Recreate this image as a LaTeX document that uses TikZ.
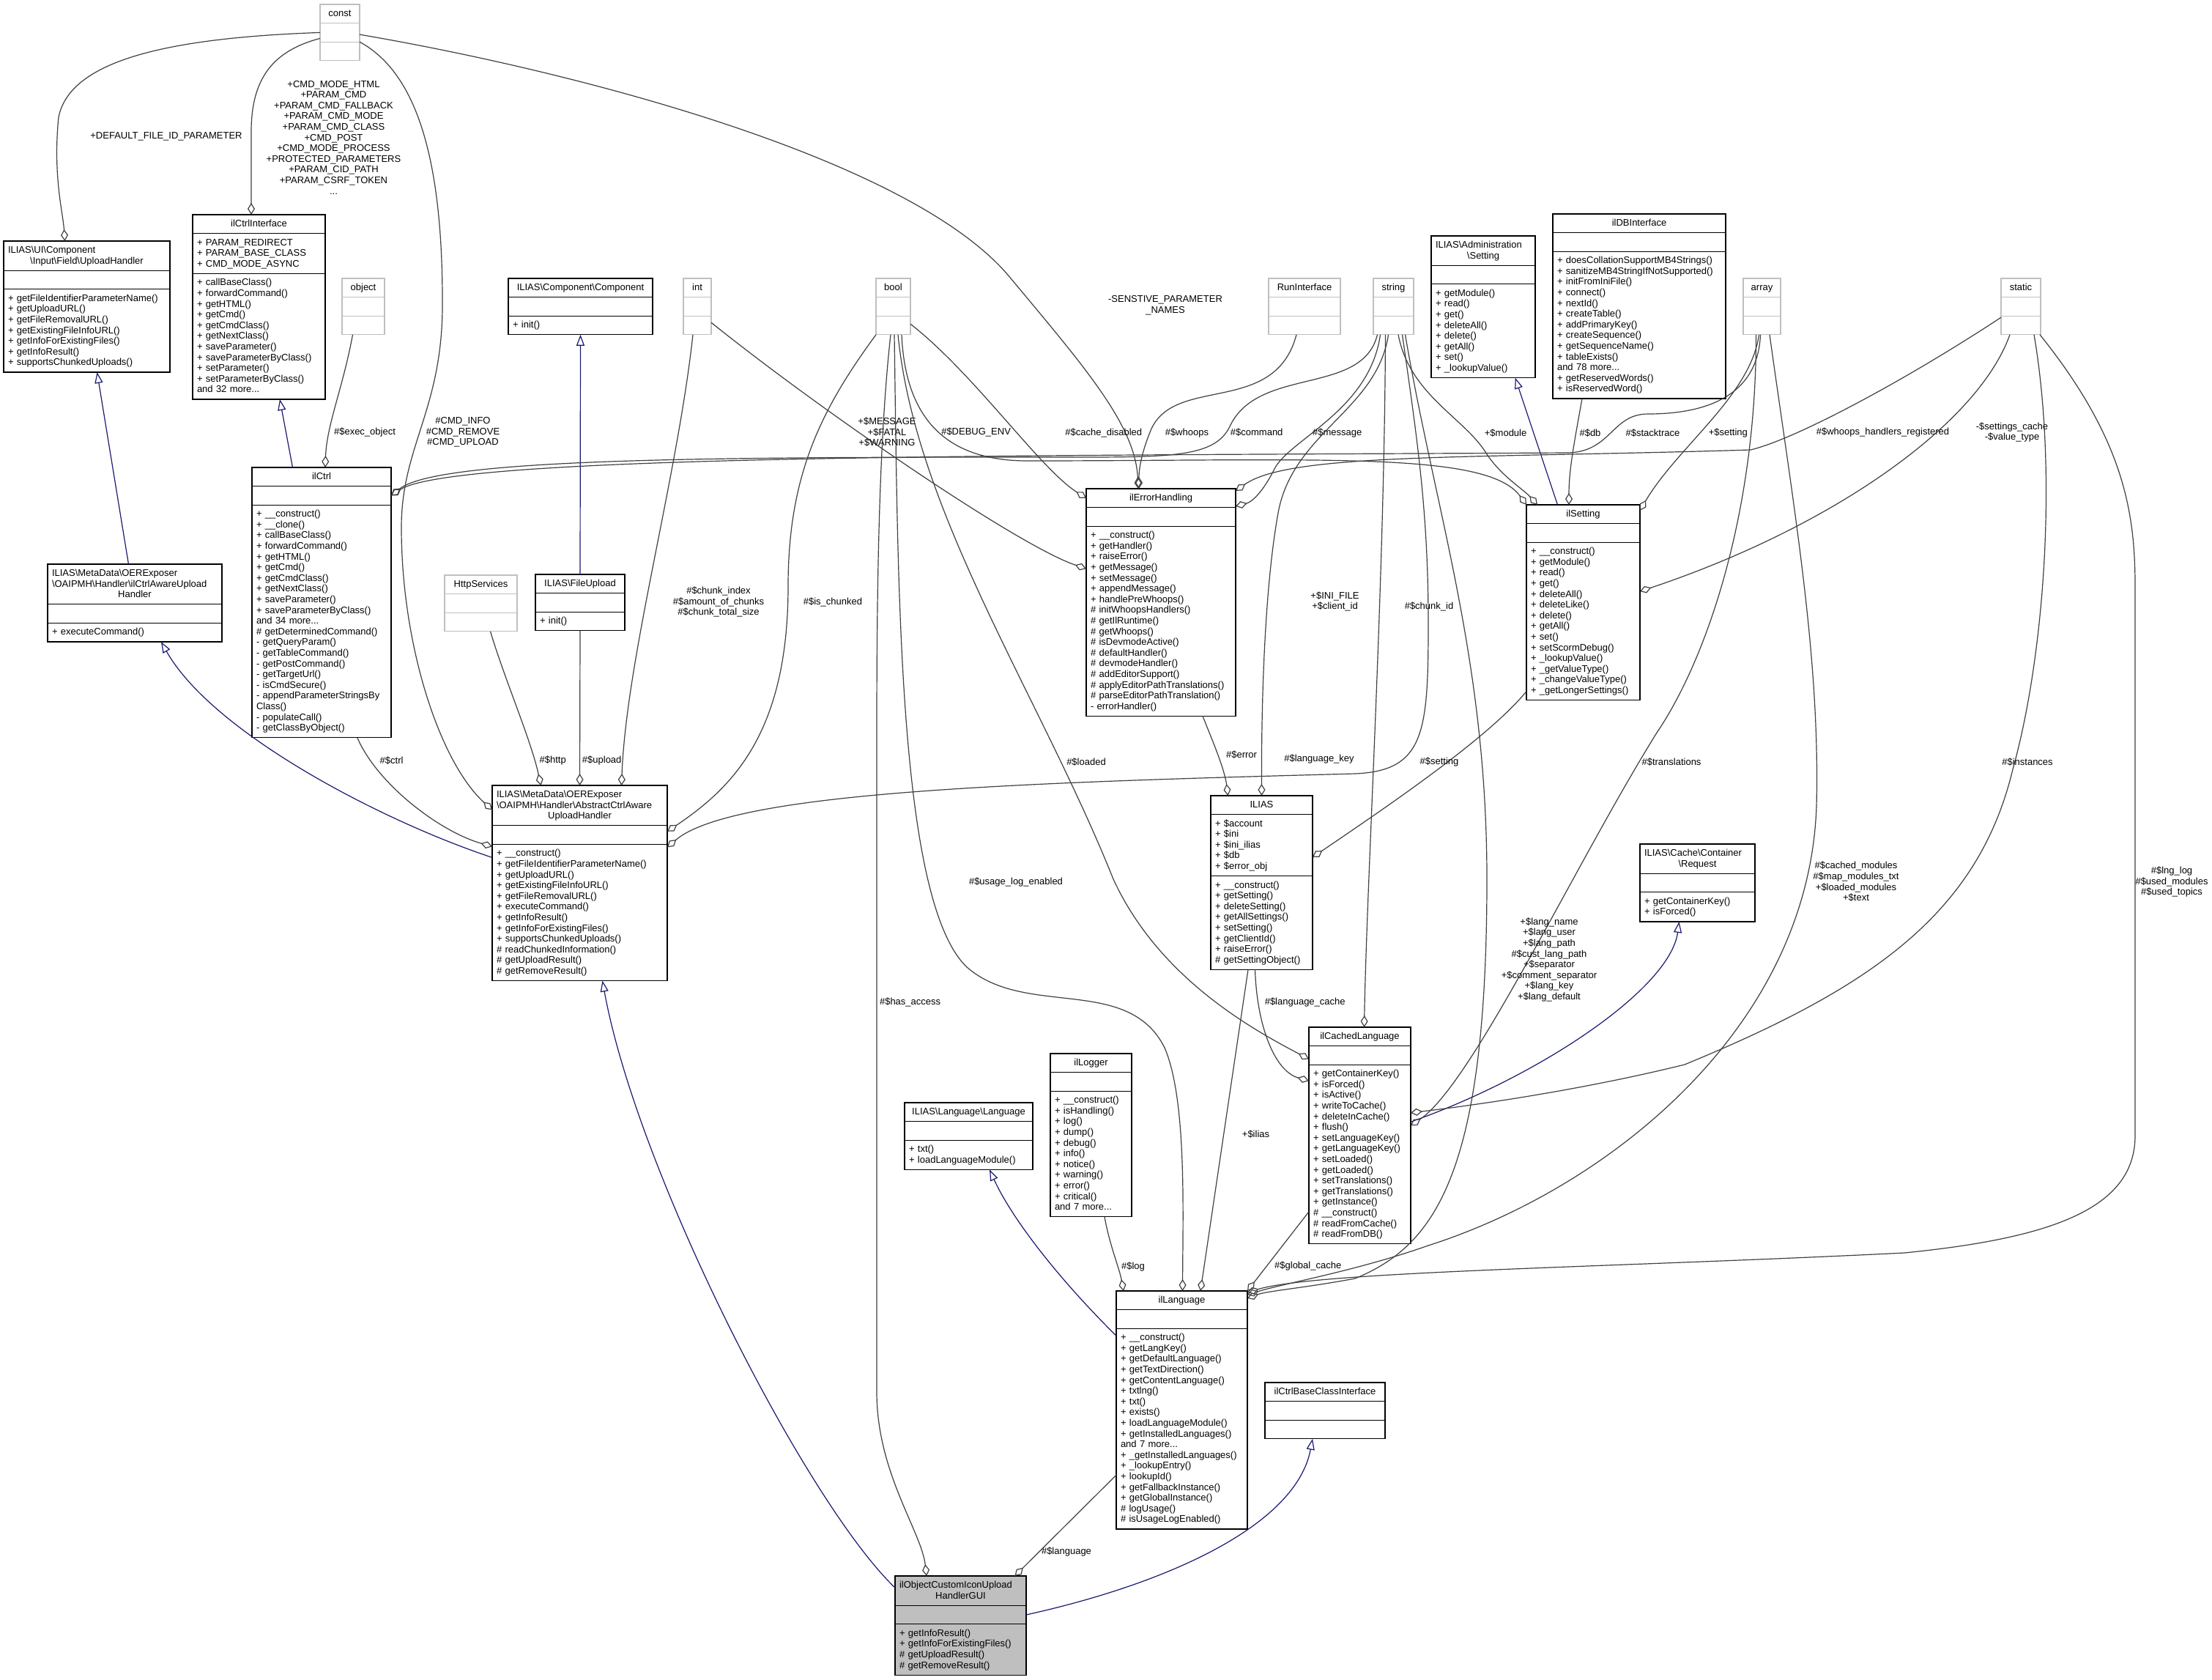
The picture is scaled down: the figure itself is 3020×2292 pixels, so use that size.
\documentclass[tikz,border=0pt]{standalone}
\usepackage{fontspec}
\setmainfont{Liberation Sans}
\usetikzlibrary{arrows.meta,positioning}
\definecolor{edgegrey}{RGB}{64,64,64}
\definecolor{inhblue}{RGB}{25,25,112}
\definecolor{typegrey}{RGB}{191,191,191}
\definecolor{guifill}{RGB}{191,191,191}
\newcommand\dxf{\fontsize{13}{14.6}\selectfont\hyphenpenalty=10000\exhyphenpenalty=10000}
\newcommand\cstrut{\rule[-3.7pt]{0pt}{14.6pt}}
\newcommand\cenline[1]{\leavevmode\hbox to\hsize{\hfil#1\hfil}}
\newcommand\bsl{\textbackslash}
\tikzset{
  uml/.style={draw=black,line width=1.3pt,fill=white,inner xsep=6pt,inner ysep=5.5pt,
    outer sep=0pt,align=left,font=\dxf},
  umlgrey/.style={uml,draw=typegrey},
  agg/.style={draw=edgegrey,line width=1.2pt,-{Diamond[open,length=16pt,width=10pt]}},
  inh/.style={draw=inhblue,line width=1.2pt,-{Triangle[open,length=15pt,width=11pt]}},
  lbl/.style={font=\dxf,align=center,inner sep=0pt},
}
% class box: style, name, x, y, width, title, attributes, methods
\newcommand\umlbox[8][uml]{%
  \node[#1,anchor=north west,text width=#5pt-12pt] (#2) at (#3,#4) {\cstrut#6\cstrut};
  \node[#1,below=0pt of #2,text width=#5pt-12pt] (#2-a) {\cstrut#7\cstrut};
  \node[#1,below=0pt of #2-a,text width=#5pt-12pt] (#2-m) {\cstrut#8\cstrut};
}

\begin{document}
\begin{tikzpicture}[x=1pt,y=-1pt]
  \fill[white] (0,0) rectangle (3020,2292);
  \useasboundingbox (0,0) rectangle (3020,2292);

  % plain types
  \umlbox[umlgrey]{t-const}{437}{6}{54}{\cenline{const}}{}{}
  \foreach \tn/\x/\w in {object/467/58,int/933/38,bool/1196/47,string/1875/55,array/2380/51,static/2732/54}
    {\umlbox[umlgrey]{t-\tn}{\x}{380}{\w}{\cenline{\tn}}{}{}}
  \umlbox[umlgrey]{runif}{1732}{380}{98}{\cenline{RunInterface}}{}{}
  \umlbox[umlgrey]{http}{607}{785}{99}{\cenline{HttpServices}}{}{}

  % classes and interfaces
  \umlbox{uph}{5}{329}{227}{ILIAS\bsl UI\bsl Component\\\cenline{\bsl Input\bsl Field\bsl UploadHandler}}{}
    {+ getFileIdentifierParameterName()\\+ getUploadURL()\\+ getFileRemovalURL()\\+ getExistingFileInfoURL()\\+ getInfoForExistingFiles()\\+ getInfoResult()\\+ supportsChunkedUploads()}
  \umlbox{ctrlif}{263}{293}{181}{\cenline{ilCtrlInterface}}
    {+ PARAM\_REDIRECT\\+ PARAM\_BASE\_CLASS\\+ CMD\_MODE\_ASYNC}
    {+ callBaseClass()\\+ forwardCommand()\\+ getHTML()\\+ getCmd()\\+ getCmdClass()\\+ getNextClass()\\+ saveParameter()\\+ saveParameterByClass()\\+ setParameter()\\+ setParameterByClass()\\and 32 more...}
  \umlbox{comp}{694}{380}{197}{\cenline{ILIAS\bsl Component\bsl Component}}{}{+ init()}
  \umlbox{admset}{1954}{322}{142}{ILIAS\bsl Administration\\\cenline{\bsl Setting}}{}
    {+ getModule()\\+ read()\\+ get()\\+ deleteAll()\\+ delete()\\+ getAll()\\+ set()\\+ \_lookupValue()}
  \umlbox{dbif}{2120}{292}{236}{\cenline{ilDBInterface}}{}
    {+ doesCollationSupportMB4Strings()\\+ sanitizeMB4StringIfNotSupported()\\+ initFromIniFile()\\+ connect()\\+ nextId()\\+ createTable()\\+ addPrimaryKey()\\+ createSequence()\\+ getSequenceName()\\+ tableExists()\\and 78 more...\\+ getReservedWords()\\+ isReservedWord()}
  \umlbox{ctrl}{344}{638}{190}{\cenline{ilCtrl}}{}
    {+ \_\_construct()\\+ \_\_clone()\\+ callBaseClass()\\+ forwardCommand()\\+ getHTML()\\+ getCmd()\\+ getCmdClass()\\+ getNextClass()\\+ saveParameter()\\+ saveParameterByClass()\\and 34 more...\\\# getDeterminedCommand()\\- getQueryParam()\\- getTableCommand()\\- getPostCommand()\\- getTargetUrl()\\- isCmdSecure()\\- appendParameterStringsBy\\Class()\\- populateCall()\\- getClassByObject()}
  \umlbox{errh}{1483}{667}{204}{\cenline{ilErrorHandling}}{}
    {+ \_\_construct()\\+ getHandler()\\+ raiseError()\\+ getMessage()\\+ setMessage()\\+ appendMessage()\\+ handlePreWhoops()\\\# initWhoopsHandlers()\\\# getIlRuntime()\\\# getWhoops()\\\# isDevmodeActive()\\\# defaultHandler()\\\# devmodeHandler()\\\# addEditorSupport()\\\# applyEditorPathTranslations()\\\# parseEditorPathTranslation()\\- errorHandler()}
  \umlbox{setting}{2084}{689}{155}{\cenline{ilSetting}}{}
    {+ \_\_construct()\\+ getModule()\\+ read()\\+ get()\\+ deleteAll()\\+ deleteLike()\\+ delete()\\+ getAll()\\+ set()\\+ setScormDebug()\\+ \_lookupValue()\\+ \_getValueType()\\+ \_changeValueType()\\+ \_getLongerSettings()}
  \umlbox{ctrlaware}{65}{770}{238}{ILIAS\bsl MetaData\bsl OERExposer\\\bsl OAIPMH\bsl Handler\bsl ilCtrlAwareUpload\\\cenline{Handler}}{}{+ executeCommand()}
  \umlbox{fupload}{731}{784}{122}{\cenline{ILIAS\bsl FileUpload}}{}{+ init()}
  \umlbox{abstract}{672}{1072}{239}{ILIAS\bsl MetaData\bsl OERExposer\\\bsl OAIPMH\bsl Handler\bsl AbstractCtrlAware\\\cenline{UploadHandler}}{}
    {+ \_\_construct()\\+ getFileIdentifierParameterName()\\+ getUploadURL()\\+ getExistingFileInfoURL()\\+ getFileRemovalURL()\\+ executeCommand()\\+ getInfoResult()\\+ getInfoForExistingFiles()\\+ supportsChunkedUploads()\\\# readChunkedInformation()\\\# getUploadResult()\\\# getRemoveResult()}
  \umlbox{ilias}{1653}{1086}{139}{\cenline{ILIAS}}
    {+ \$account\\+ \$ini\\+ \$ini\_ilias\\+ \$db\\+ \$error\_obj}
    {+ \_\_construct()\\+ getSetting()\\+ deleteSetting()\\+ getAllSettings()\\+ setSetting()\\+ getClientId()\\+ raiseError()\\\# getSettingObject()}
  \umlbox{cachereq}{2239}{1152}{157}{ILIAS\bsl Cache\bsl Container\\\cenline{\bsl Request}}{}{+ getContainerKey()\\+ isForced()}
  \umlbox{cachedlng}{1787}{1402}{139}{\cenline{ilCachedLanguage}}{}
    {+ getContainerKey()\\+ isForced()\\+ isActive()\\+ writeToCache()\\+ deleteInCache()\\+ flush()\\+ setLanguageKey()\\+ getLanguageKey()\\+ setLoaded()\\+ getLoaded()\\+ setTranslations()\\+ getTranslations()\\+ getInstance()\\\# \_\_construct()\\\# readFromCache()\\\# readFromDB()}
  \umlbox{logger}{1434}{1438}{111}{\cenline{ilLogger}}{}
    {+ \_\_construct()\\+ isHandling()\\+ log()\\+ dump()\\+ debug()\\+ info()\\+ notice()\\+ warning()\\+ error()\\+ critical()\\and 7 more...}
  \umlbox{langif}{1235}{1505}{175}{\cenline{ILIAS\bsl Language\bsl Language}}{}{+ txt()\\+ loadLanguageModule()}
  \umlbox{lng}{1524}{1762}{179}{\cenline{ilLanguage}}{}
    {+ \_\_construct()\\+ getLangKey()\\+ getDefaultLanguage()\\+ getTextDirection()\\+ getContentLanguage()\\+ txtlng()\\+ txt()\\+ exists()\\+ loadLanguageModule()\\+ getInstalledLanguages()\\and 7 more...\\+ \_getInstalledLanguages()\\+ \_lookupEntry()\\+ lookupId()\\+ getFallbackInstance()\\+ getGlobalInstance()\\\# logUsage()\\\# isUsageLogEnabled()}
  \umlbox{baseif}{1727}{1887}{164}{\cenline{ilCtrlBaseClassInterface}}{}{}
  \umlbox[uml,fill=guifill]{gui}{1222}{2151}{179}{ilObjectCustomIconUpload\\\cenline{HandlerGUI}}{}
    {+ getInfoResult()\\+ getInfoForExistingFiles()\\\# getUploadResult()\\\# getRemoveResult()}

  % inheritance
  \draw[inh] ([xshift=-39.5pt]ctrl.north) -- ([xshift=28.5pt]ctrlif-m.south);
  \draw[inh] ([xshift=-8.5pt]ctrlaware.north) -- ([xshift=14pt]uph-m.south);
  \draw[inh] ([yshift=-18pt]abstract-m.north west) .. controls (520,1120) and (290,1000) .. ([xshift=36pt]ctrlaware-m.south);
  \draw[inh] (fupload.north) -- (comp-m.south);
  \draw[inh] ([xshift=-35pt]setting.north) -- ([xshift=43.7pt]admset-m.south);
  \draw[inh] ([yshift=-10pt]lng-m.north west) .. controls (1440,1740) and (1380,1660) .. ([xshift=28.5pt]langif-m.south);
  \draw[inh] ([yshift=4pt]gui.west) .. controls (1100,2050) and (870,1600) .. ([xshift=31pt]abstract-m.south);
  \draw[inh] (gui-a.east) .. controls (1600,2160) and (1770,2080) .. ([xshift=-17pt]baseif-m.south);
  \draw[inh] ([yshift=-78pt]cachedlng-m.north east) .. controls (2100,1470) and (2280,1350) .. ([xshift=-25pt]cachereq-m.south);

  % members of type const
  \draw[agg] (t-const-a.west) .. controls (220,52) and (95,85) .. (80,160) .. controls (72,240) and (86,290) .. ([xshift=-30pt]uph.north);
  \draw[agg] ([yshift=-8pt]t-const-a.west) .. controls (370,70) and (343,110) .. (343,180) -- ([xshift=-10.5pt]ctrlif.north);
  \draw[agg] (t-const-a.south east) .. controls (570,100) and (605,220) .. (604,420) .. controls (603,560) and (548,610) .. (548,720) .. controls (548,880) and (600,1040) .. ([yshift=-6pt]abstract.west);
  \draw[agg] ([yshift=-15.5pt]t-const-a.north east) .. controls (800,100) and (1250,220) .. (1380,380) .. controls (1480,500) and (1550,580) .. ([xshift=-31pt]errh.north);
  \node[lbl] (lb-fileid) at (227,186) {+DEFAULT\_FILE\_ID\_PARAMETER};
  \node[lbl] (lb-cmdmode) at (455.5,187.5) {+CMD\_MODE\_HTML\\+PARAM\_CMD\\+PARAM\_CMD\_FALLBACK\\+PARAM\_CMD\_MODE\\+PARAM\_CMD\_CLASS\\+CMD\_POST\\+CMD\_MODE\_PROCESS\\+PROTECTED\_PARAMETERS\\+PARAM\_CID\_PATH\\+PARAM\_CSRF\_TOKEN\\...};
  \node[lbl] (lb-cmdinfo) at (632,590) {\#CMD\_INFO\\\#CMD\_REMOVE\\\#CMD\_UPLOAD};
  \node[lbl] (lb-senstive) at (1591,417) {-SENSTIVE\_PARAMETER\\\_NAMES};

  % members of ilCtrl and the upload handler
  \draw[agg] ([xshift=-14.5pt]t-object-m.south) .. controls (468,530) and (446,580) .. ([xshift=5pt]ctrl.north);
  \draw[agg] (fupload-m.south) -- (abstract.north);
  \draw[agg] ([xshift=13pt]http-m.south) .. controls (690,930) and (725,1010) .. ([xshift=-53pt]abstract.north);
  \draw[agg] ([xshift=48.8pt]ctrl-m.south) .. controls (515,1070) and (600,1135) .. ([yshift=-3pt]abstract-m.north west);
  \draw[agg] ([xshift=-6pt]t-int-m.south) .. controls (925,650) and (855,900) .. ([xshift=57pt]abstract.north);
  \draw[agg] (t-bool-m.south west) .. controls (1120,560) and (1076,650) .. (1076,800) .. controls (1076,1000) and (1000,1075) .. ([yshift=-8pt]abstract-a.north east);
  \node[lbl] (lb-exec) at (498,590) {\#\$exec\_object};
  \node[lbl] (lb-ctrl) at (534.6,1038.4) {\#\$ctrl};
  \node[lbl] (lb-http) at (754.7,1038.4) {\#\$http};
  \node[lbl] (lb-upload) at (821.7,1038.4) {\#\$upload};
  \node[lbl] (lb-chunk) at (981,821.6) {\#\$chunk\_index\\\#\$amount\_of\_chunks\\\#\$chunk\_total\_size};
  \node[lbl] (lb-ischunked) at (1137,822) {\#\$is\_chunked};

  % members of ilErrorHandling
  \draw[agg] ([yshift=-9pt]t-int-m.north east) .. controls (1120,560) and (1390,745) .. ([yshift=-58pt]errh-m.north west);
  \draw[agg] ([yshift=-11pt]t-bool-m.north east) .. controls (1330,510) and (1420,640) .. (errh.west);
  \draw[agg] ([xshift=-11pt]runif-m.south) .. controls (1740,570) and (1600,510) .. (1570,590) .. controls (1558,620) and (1555,640) .. ([xshift=-30pt]errh.north);
  \draw[agg] ([xshift=-18pt]t-string-m.south) .. controls (1870,560) and (1760,600) .. (1740,640) .. controls (1725,670) and (1710,685) .. ([yshift=-24pt]errh.north east);
  \draw[agg] ([yshift=-2pt]t-static-m.north west) .. controls (2600,520) and (2450,600) .. (2390,614) .. controls (2000,626) and (1760,618) .. ([yshift=-3pt]errh.north east);
  \node[lbl] (lb-message3) at (1211,590) {+\$MESSAGE\\+\$FATAL\\+\$WARNING};
  \node[lbl] (lb-debug) at (1332.6,590.4) {\#\$DEBUG\_ENV};
  \node[lbl] (lb-whoops) at (1620.4,590.6) {\#\$whoops};
  \node[lbl] (lb-message) at (1825.7,590.6) {\#\$message};
  \node[lbl] (lb-registered) at (2570.5,590.5) {\#\$whoops\_handlers\_registered};

  % members of ilCtrl from string and array
  \draw[agg] ([xshift=-22pt]t-string-m.south) .. controls (1860,540) and (1720,500) .. (1680,580) .. controls (1660,625) and (1600,624) .. (1450,624) .. controls (1000,624) and (600,624) .. (ctrl-a.east);
  \draw[agg] ([xshift=-2pt]t-array-m.south) .. controls (2400,540) and (2330,565) .. (2250,565) .. controls (2200,565) and (2200,617) .. (2140,618) .. controls (1400,622) and (620,620) .. (ctrl-a.east);
  \node[lbl] (lb-command) at (1715.7,590.6) {\#\$command};
  \node[lbl] (lb-stacktrace) at (2256.5,590.7) {\#\$stacktrace};

  % members of ilSetting
  \draw[agg] ([xshift=11.5pt]t-bool-m.south) .. controls (1236,570) and (1290,628) .. (1400,629) .. controls (1800,629) and (2030,615) .. (setting.north west);
  \draw[agg] ([xshift=6.5pt]t-string-m.south) .. controls (1925,540) and (2000,570) .. (2030,620) .. controls (2050,650) and (2080,668) .. ([xshift=15pt]setting.north west);
  \draw[agg] ([xshift=-78pt]dbif-m.south) .. controls (2150,600) and (2142,640) .. ([xshift=-19.5pt]setting.north);
  \draw[agg] ([xshift=-4pt]t-array-m.south) .. controls (2390,540) and (2290,610) .. ([yshift=5pt]setting.east);
  \draw[agg] ([xshift=-15pt]t-static-m.south) .. controls (2700,580) and (2500,720) .. ([yshift=-67pt]setting-m.north east);
  \node[lbl] (lb-cache) at (1506.8,590.6) {\#\$cache\_disabled};
  \node[lbl] (lb-module) at (2055.6,590.7) {+\$module};
  \node[lbl] (lb-db) at (2171,590.7) {\#\$db};
  \node[lbl] (lb-setting) at (2359.3,590.7) {+\$setting};
  \node[lbl] (lb-setcache) at (2747,590) {-\$settings\_cache\\-\$value\_type};

  % members of ILIAS
  \draw[agg] ([xshift=-7pt]t-string-m.south) .. controls (1880,560) and (1765,590) .. (1745,700) .. controls (1727,800) and (1722,950) .. (ilias.north);
  \draw[agg] ([xshift=57pt]errh-m.south) .. controls (1655,1010) and (1672,1050) .. ([xshift=-46pt]ilias.north);
  \draw[agg] ([yshift=12pt]setting-m.south west) .. controls (2030,1010) and (1880,1110) .. ([yshift=-16.5pt]ilias-a.east);
  \node[lbl] (lb-inifile) at (1822.5,821) {+\$INI\_FILE\\+\$client\_id};
  \node[lbl] (lb-error) at (1695,1030) {\#\$error};
  \node[lbl] (lb-setting2) at (1965,1040) {\#\$setting};

  % members of the upload handler from string
  \draw[agg] ([xshift=12pt]t-string-m.south) .. controls (1935,600) and (1950,700) .. (1950,850) .. controls (1950,1000) and (1945,1052) .. (1850,1056) .. controls (1400,1068) and (1000,1080) .. ([yshift=-4pt]abstract-m.north east);
  \node[lbl] (lb-chunkid) at (1951,828) {\#\$chunk\_id};

  % members of ilCachedLanguage
  \draw[agg] ([xshift=6.5pt]t-bool-m.south) .. controls (1250,700) and (1420,950) .. (1520,1200) .. controls (1580,1330) and (1700,1400) .. ([yshift=-5pt]cachedlng-a.west);
  \draw[agg] ([xshift=-11pt]t-string-m.south) .. controls (1890,800) and (1866,1200) .. ([xshift=6pt]cachedlng.north);
  \draw[agg] ([xshift=-8pt]t-array-m.south) .. controls (2398,700) and (2330,900) .. (2262,1000) .. controls (2150,1180) and (2010,1480) .. ([yshift=-83pt]cachedlng-m.north east);
  \draw[agg] ([xshift=18pt]t-static-m.south) .. controls (2810,650) and (2790,900) .. (2748,1050) .. controls (2700,1250) and (2550,1350) .. (2300,1453) .. controls (2150,1490) and (2000,1510) .. ([yshift=-65.6pt]cachedlng-m.north east);
  \draw[agg] ([xshift=-9pt]ilias-m.south) .. controls (1716,1400) and (1740,1462) .. ([yshift=-22pt]cachedlng-m.north west);
  \node[lbl] (lb-loaded) at (1483,1040) {\#\$loaded};
  \node[lbl] (lb-langkey) at (1801,1036) {\#\$language\_key};
  \node[lbl] (lb-transl) at (2282,1040) {\#\$translations};
  \node[lbl] (lb-instances) at (2768,1040) {\#\$instances};
  \node[lbl] (lb-langcache) at (1781.7,1368) {\#\$language\_cache};

  % members of ilLanguage
  \draw[agg] ([xshift=1.5pt]t-bool-m.south) .. controls (1226,800) and (1226,1230) .. (1320,1320) .. controls (1400,1390) and (1540,1330) .. (1590,1430) .. controls (1620,1500) and (1615,1650) .. ([xshift=1pt]lng.north);
  \draw[agg] ([xshift=16pt]t-string-m.south) .. controls (1960,700) and (2030,900) .. (2030,1200) .. controls (2030,1600) and (1960,1700) .. (1850,1745) .. controls (1780,1758) and (1730,1762) .. ([yshift=-10pt]lng.north east);
  \draw[agg] ([xshift=10.5pt]t-array-m.south) .. controls (2450,700) and (2485,900) .. (2480,1100) .. controls (2470,1400) and (2200,1620) .. (1950,1700) .. controls (1850,1735) and (1760,1750) .. ([yshift=-5pt]lng.north east);
  \draw[agg] ([xshift=26pt]t-static-m.south) .. controls (2900,600) and (2915,700) .. (2915,800) -- (2915,1550) .. controls (2915,1650) and (2800,1690) .. (2600,1710) .. controls (2200,1730) and (1800,1735) .. ([yshift=-2pt]lng.north east);
  \draw[agg] ([xshift=-18.5pt]ilias-m.south) -- ([xshift=25.5pt]lng.north);
  \draw[agg] ([yshift=44pt]cachedlng-m.south west) -- (lng.north east);
  \draw[agg] ([xshift=18.5pt]logger-m.south) .. controls (1515,1700) and (1528,1730) .. ([xshift=10pt]lng.north west);
  \node[lbl] (lb-usagelog) at (1387,1204) {\#\$usage\_log\_enabled};
  \node[lbl] (lb-langname) at (2115,1310) {+\$lang\_name\\+\$lang\_user\\+\$lang\_path\\\#\$cust\_lang\_path\\+\$separator\\+\$comment\_separator\\+\$lang\_key\\+\$lang\_default};
  \node[lbl] (lb-cachedmod) at (2534,1203.5) {\#\$cached\_modules\\\#\$map\_modules\_txt\\+\$loaded\_modules\\+\$text};
  \node[lbl] (lb-lnglog) at (2965,1203.6) {\#\$lng\_log\\\#\$used\_modules\\\#\$used\_topics};
  \node[lbl] (lb-ilias) at (1714.5,1548) {+\$ilias};
  \node[lbl] (lb-log) at (1547,1728.6) {\#\$log};
  \node[lbl] (lb-global) at (1785.7,1728) {\#\$global\_cache};

  % members of the GUI class
  \draw[agg] ([xshift=-3.5pt]t-bool-m.south) .. controls (1200,600) and (1197,800) .. (1197,1000) -- (1197,1900) .. controls (1197,2010) and (1258,2090) .. ([xshift=-46.5pt]gui.north);
  \draw[agg] ([yshift=-200pt]lng-m.north west) -- ([xshift=74pt]gui.north);
  \node[lbl] (lb-access) at (1242.6,1368) {\#\$has\_access};
  \node[lbl] (lb-language) at (1456,2118) {\#\$language};
\end{tikzpicture}
\end{document}
